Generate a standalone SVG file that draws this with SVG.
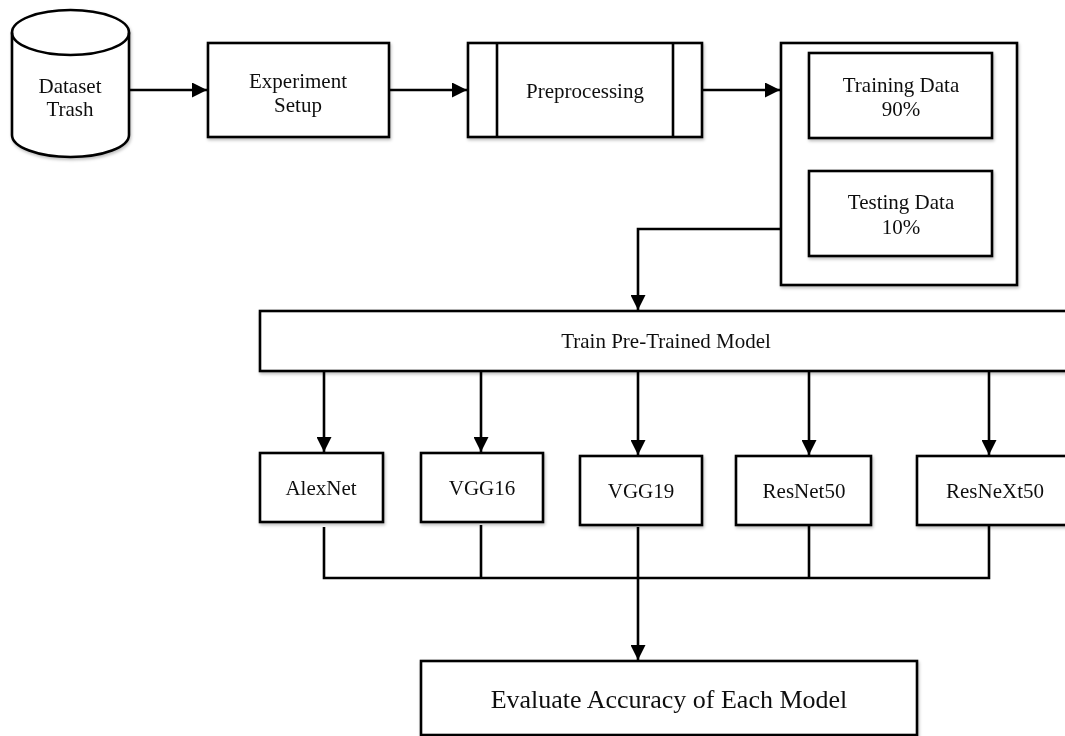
<svg xmlns="http://www.w3.org/2000/svg" width="1065" height="736" viewBox="0 0 1065 736">
<style>
.box{fill:#fff;stroke:#000;stroke-width:2.6}
.ln{fill:none;stroke:#000;stroke-width:2.6}
text{font-family:"Liberation Serif","Times New Roman",serif;font-size:21px;fill:#111;text-anchor:middle}
.big{font-size:26px}
.sh{filter:url(#ds)}
</style>
<defs>
<filter id="ds" x="-10%" y="-10%" width="130%" height="140%">
<feDropShadow dx="1" dy="2" stdDeviation="1.5" flood-color="#000" flood-opacity="0.25"/>
</filter>
<marker id="ah" viewBox="0 0 15 15" refX="15" refY="7.5" markerWidth="15" markerHeight="15" markerUnits="userSpaceOnUse" orient="auto">
<path d="M0,0 L15,7.5 L0,15 Z" fill="#000"/>
</marker>
</defs>
<rect width="1065" height="736" fill="#fff"/>
<g id="connectors">
<line class="ln" x1="129" y1="90" x2="207" y2="90" marker-end="url(#ah)"/>
<line class="ln" x1="389" y1="90" x2="467" y2="90" marker-end="url(#ah)"/>
<line class="ln" x1="702" y1="90" x2="780" y2="90" marker-end="url(#ah)"/>
<polyline class="ln" points="781,229 638,229 638,310" marker-end="url(#ah)"/>
<line class="ln" x1="324" y1="371" x2="324" y2="452" marker-end="url(#ah)"/>
<line class="ln" x1="481" y1="371" x2="481" y2="452" marker-end="url(#ah)"/>
<line class="ln" x1="638" y1="371" x2="638" y2="455" marker-end="url(#ah)"/>
<line class="ln" x1="809" y1="371" x2="809" y2="455" marker-end="url(#ah)"/>
<line class="ln" x1="989" y1="371" x2="989" y2="455" marker-end="url(#ah)"/>
<polyline class="ln" points="324,527 324,578 989,578 989,525"/>
<line class="ln" x1="481" y1="525" x2="481" y2="578"/>
<line class="ln" x1="809" y1="525" x2="809" y2="578"/>
<line class="ln" x1="638" y1="527" x2="638" y2="660" marker-end="url(#ah)"/>
</g>
<g id="dataset" class="sh">
<path class="box" d="M12,32.5 A58.5,22.5 0 0 1 129,32.5 L129,135 A58.5,22 0 0 1 12,135 Z"/>
<path class="ln" d="M12,32.5 A58.5,22.5 0 0 0 129,32.5"/>
<text x="70" y="93">Dataset</text>
<text x="70" y="116">Trash</text>
</g>
<g id="experiment" class="sh">
<rect class="box" x="208" y="43" width="181" height="94"/>
<text x="298" y="88">Experiment</text>
<text x="298" y="112">Setup</text>
</g>
<g id="preprocessing" class="sh">
<rect class="box" x="468" y="43" width="234" height="94"/>
<line class="ln" x1="497" y1="43" x2="497" y2="137"/>
<line class="ln" x1="673" y1="43" x2="673" y2="137"/>
<text x="585" y="98">Preprocessing</text>
</g>
<g id="split" class="sh">
<rect class="box" x="781" y="43" width="236" height="242"/>
</g>
<g id="training" class="sh">
<rect class="box" x="809" y="53" width="183" height="85"/>
<text x="901" y="92">Training Data</text>
<text x="901" y="116">90%</text>
</g>
<g id="testing" class="sh">
<rect class="box" x="809" y="171" width="183" height="85"/>
<text x="901" y="209">Testing Data</text>
<text x="901" y="234">10%</text>
</g>
<g id="train" class="sh">
<rect class="box" x="260" y="311" width="820" height="60"/>
<text x="666" y="348">Train Pre-Trained Model</text>
</g>
<g id="alexnet" class="sh">
<rect class="box" x="260" y="453" width="123" height="69"/>
<text x="321" y="495">AlexNet</text>
</g>
<g id="vgg16" class="sh">
<rect class="box" x="421" y="453" width="122" height="69"/>
<text x="482" y="495">VGG16</text>
</g>
<g id="vgg19" class="sh">
<rect class="box" x="580" y="456" width="122" height="69"/>
<text x="641" y="498">VGG19</text>
</g>
<g id="resnet50" class="sh">
<rect class="box" x="736" y="456" width="135" height="69"/>
<text x="804" y="498">ResNet50</text>
</g>
<g id="resnext50" class="sh">
<rect class="box" x="917" y="456" width="160" height="69"/>
<text x="995" y="498">ResNeXt50</text>
</g>
<g id="evaluate" class="sh">
<rect class="box" x="421" y="661" width="496" height="74"/>
<text class="big" x="669" y="708">Evaluate Accuracy of Each Model</text>
</g>
</svg>
